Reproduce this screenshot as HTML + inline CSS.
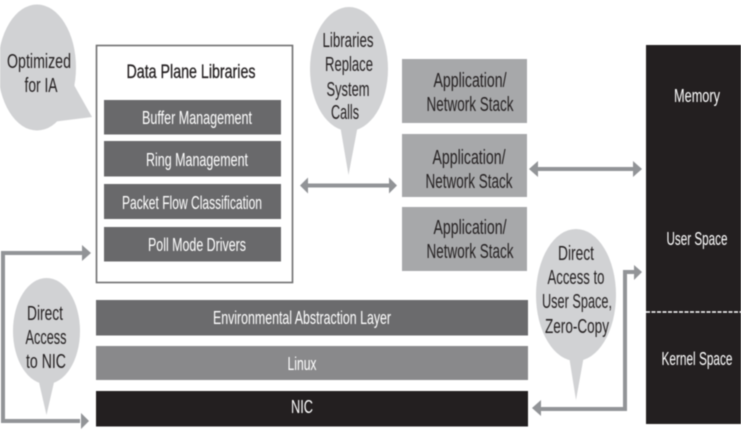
<!DOCTYPE html>
<html>
<head>
<meta charset="utf-8">
<style>
html,body{margin:0;padding:0;background:#fff}
svg{display:block;filter:blur(.45px)}
text{font-family:"Liberation Sans",sans-serif;text-anchor:middle}
</style>
</head>
<body>
<svg width="741" height="433" viewBox="0 0 741 433" xmlns="http://www.w3.org/2000/svg">
<rect width="741" height="433" fill="#fff"/>

<!-- main box -->
<rect x="96.5" y="45.5" width="196" height="237" fill="#fff" stroke="#6f6f70" stroke-width="1.6"/>
<g fill="#69696b">
<rect x="104" y="100" width="177" height="34.5"/>
<rect x="104" y="141" width="177" height="35.5"/>
<rect x="104" y="184" width="177" height="35"/>
<rect x="104" y="227" width="177" height="34.5"/>
</g>

<!-- layers -->
<rect x="96" y="300" width="432" height="35.5" fill="#6b6b6d"/>
<rect x="96" y="346" width="432" height="34" fill="#89898b"/>
<rect x="96" y="391" width="432" height="35.5" fill="#231f20"/>

<!-- app boxes -->
<g fill="#a7a8aa">
<rect x="402" y="59" width="125" height="64"/>
<rect x="402" y="134" width="125" height="63"/>
<rect x="402" y="207" width="125" height="64"/>
</g>

<!-- right block -->
<rect x="646" y="45" width="95" height="379" fill="#231f20"/>
<line x1="646" y1="312" x2="741" y2="312" stroke="#fff" stroke-width="1.5" stroke-dasharray="4 1.5"/>

<!-- bubbles -->
<g fill="#d1d2d4">
<ellipse cx="37" cy="67.5" rx="39" ry="63"/>
<polygon points="74,85 92,117 52,122"/>
<ellipse cx="46.500" cy="331" rx="33.500" ry="53"/>
<polygon points="38,378 55,378 46.500,415"/>
<ellipse cx="349" cy="69" rx="39" ry="62"/>
<polygon points="340,125 358,125 348.500,175"/>
<ellipse cx="576" cy="295" rx="40" ry="66"/>
<polygon points="568,350 585,350 576,400"/>
</g>

<!-- connectors -->
<g fill="none" stroke="#929497" stroke-width="4">
<path d="M82,253 H3 V421 H80"/>
<line x1="305" y1="185.500" x2="392" y2="185.500"/>
<line x1="535" y1="169" x2="636" y2="169"/>
<path d="M540,409 H625 V272 H636"/>
</g>
<g fill="#929497">
<polygon points="91,253 82,245 82,261"/>
<polygon points="89,421 81,413 81,429"/>
<polygon points="300,185.500 308,177.500 308,193.500"/>
<polygon points="397,185.500 389,177.500 389,193.500"/>
<polygon points="529,169 538,161 538,177"/>
<polygon points="642,169 633,161 633,177"/>
<polygon points="642,272 634,265 634,280"/>
<polygon points="532,408 541,400 541,416"/>
</g>

<!-- text -->
<g fill="#fff">
<text x="197" y="124" font-size="18" textLength="110" lengthAdjust="spacingAndGlyphs">Buffer Management</text>
<text x="197" y="166" font-size="18" textLength="102" lengthAdjust="spacingAndGlyphs">Ring Management</text>
<text x="192" y="209" font-size="18" textLength="140" lengthAdjust="spacingAndGlyphs">Packet Flow Classification</text>
<text x="197" y="251" font-size="18" textLength="98" lengthAdjust="spacingAndGlyphs">Poll Mode Drivers</text>
<text x="302" y="324" font-size="18" textLength="178" lengthAdjust="spacingAndGlyphs">Environmental Abstraction Layer</text>
<text x="302" y="370" font-size="18" textLength="29" lengthAdjust="spacingAndGlyphs">Linux</text>
<text x="302" y="413" font-size="18" textLength="22" lengthAdjust="spacingAndGlyphs">NIC</text>
<text x="697" y="102" font-size="18" textLength="46" lengthAdjust="spacingAndGlyphs">Memory</text>
<text x="697" y="245" font-size="18" textLength="61" lengthAdjust="spacingAndGlyphs">User Space</text>
<text x="697" y="365" font-size="18" textLength="71" lengthAdjust="spacingAndGlyphs">Kernel Space</text>
</g>

<g fill="#231f20" font-size="20">
<text x="191" y="78" font-size="19" stroke="#231f20" stroke-width=".3" textLength="129" lengthAdjust="spacingAndGlyphs">Data Plane Libraries</text>

<text x="39" y="68" textLength="64" lengthAdjust="spacingAndGlyphs">Optimized</text>
<text x="41" y="92" textLength="33" lengthAdjust="spacingAndGlyphs">for IA</text>

<text x="45" y="320" textLength="36" lengthAdjust="spacingAndGlyphs">Direct</text>
<text x="46" y="344" textLength="41" lengthAdjust="spacingAndGlyphs">Access</text>
<text x="46" y="368" textLength="40" lengthAdjust="spacingAndGlyphs">to NIC</text>

<text x="348" y="47" textLength="51" lengthAdjust="spacingAndGlyphs">Libraries</text>
<text x="349" y="71" textLength="48" lengthAdjust="spacingAndGlyphs">Replace</text>
<text x="348" y="96" textLength="43" lengthAdjust="spacingAndGlyphs">System</text>
<text x="345" y="119" textLength="28" lengthAdjust="spacingAndGlyphs">Calls</text>

<text x="470" y="87" textLength="73" lengthAdjust="spacingAndGlyphs">Application/</text>
<text x="470" y="111" textLength="87" lengthAdjust="spacingAndGlyphs">Network Stack</text>
<text x="469" y="164" textLength="73" lengthAdjust="spacingAndGlyphs">Application/</text>
<text x="469" y="188" textLength="87" lengthAdjust="spacingAndGlyphs">Network Stack</text>
<text x="470" y="234" textLength="73" lengthAdjust="spacingAndGlyphs">Application/</text>
<text x="470" y="258" textLength="87" lengthAdjust="spacingAndGlyphs">Network Stack</text>

<text x="576" y="260" textLength="36" lengthAdjust="spacingAndGlyphs">Direct</text>
<text x="576" y="284" textLength="57" lengthAdjust="spacingAndGlyphs">Access to</text>
<text x="577" y="308" textLength="70" lengthAdjust="spacingAndGlyphs">User Space,</text>
<text x="577" y="333" textLength="64" lengthAdjust="spacingAndGlyphs">Zero-Copy</text>
</g>
</svg>
</body>
</html>
